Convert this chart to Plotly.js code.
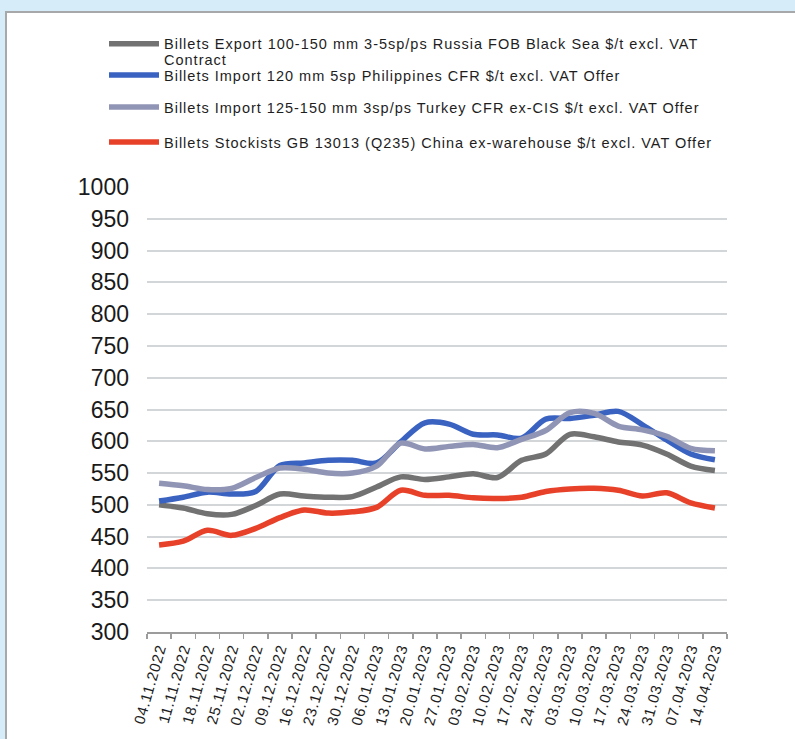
<!DOCTYPE html>
<html>
<head>
<meta charset="utf-8">
<script src="https://cdn.plot.ly/plotly-3.0.1.min.js"></script>
<style>
  html, body { margin: 0; padding: 0; width: 795px; height: 739px; overflow: hidden; background: #d6ecf9; }
  #frame { position: absolute; left: 5px; top: 11px; width: 788px; height: 726px;
           border-left: 2px solid #a6a8aa; border-top: 2px solid #a6a8aa; background: #ffffff; }
  #chart { width: 788px; height: 726px; }
  .xtick text { letter-spacing: 0.8px !important; }
</style>
</head>
<body>
<div id="frame"><div id="chart"></div></div>
<script>
// Weekly billet price assessments, $/t
const weeks = [
  '04.11.2022', '11.11.2022', '18.11.2022', '25.11.2022', '02.12.2022', '09.12.2022',
  '16.12.2022', '23.12.2022', '30.12.2022', '06.01.2023', '13.01.2023', '20.01.2023',
  '27.01.2023', '03.02.2023', '10.02.2023', '17.02.2023', '24.02.2023', '03.03.2023',
  '10.03.2023', '17.03.2023', '24.03.2023', '31.03.2023', '07.04.2023', '14.04.2023'
];

const russiaExport = [500, 495, 486, 485, 499, 517, 514, 512, 513, 528, 544, 540,
                      544, 549, 543, 570, 580, 611, 607, 599, 594, 580, 561, 554];
const philippinesImport = [506, 512, 520, 517, 521, 562, 566, 570, 570, 566, 599, 629,
                           627, 611, 610, 605, 635, 636, 641, 647, 626, 602, 580, 571];
const turkeyImport = [534, 530, 524, 526, 543, 558, 556, 550, 550, 561, 597, 588,
                      592, 595, 590, 603, 617, 645, 644, 624, 618, 608, 589, 585];
const chinaStockists = [437, 443, 460, 452, 463, 480, 492, 487, 489, 496, 523, 515,
                        515, 511, 510, 512, 521, 525, 526, 523, 514, 519, 503, 495];

const seriesLabels = [
  ['Billets Export 100-150 mm 3-5sp/ps Russia FOB Black Sea $/t excl. VAT', 'Contract'],
  ['Billets Import 120 mm 5sp Philippines CFR $/t excl. VAT Offer'],
  ['Billets Import 125-150 mm 3sp/ps Turkey CFR ex-CIS $/t excl. VAT Offer'],
  ['Billets Stockists GB 13013 (Q235) China ex-warehouse $/t excl. VAT Offer']
];
const seriesValues = [russiaExport, philippinesImport, turkeyImport, chinaStockists];
const seriesColors = ['#727272', '#3a62c0', '#9095b5', '#e8412a'];
const legendIds = ['legend', 'legend2', 'legend3', 'legend4'];
// the wrapped first entry gets a smaller base size so its two lines sit close
const legendFontSizes = [12.5, 14.5, 14.5, 14.5];

// legend text: each line in a spaced-out span at 14.5px
function legendName(lines) {
  return lines.map(t => '<span style="font-size:14.5px;letter-spacing:1px">' + t + '</span>').join('<br>');
}

const traces = seriesValues.map((vals, i) => ({
  type: 'scatter',
  mode: 'lines',
  x: weeks,
  y: vals,
  name: legendName(seriesLabels[i]),
  legend: legendIds[i],
  line: { color: seriesColors[i], width: 5.5, shape: 'spline', smoothing: 0.9 },
  hoverinfo: 'x+y'
}));

const textFont = 'Liberation Sans, Arial, Helvetica, sans-serif';

const W = 788, H = 726;
const margin = { l: 140, r: 68, t: 174, b: 107 };
const plotW = W - margin.l - margin.r;
const plotH = H - margin.t - margin.b;

// one legend box per series so each row sits at its own height
const legendLeft = 97;
const legendTops = [16, 46, 78, 113];
function legendBox(top, size) {
  return {
    xref: 'paper', yref: 'paper',
    x: (legendLeft - margin.l) / plotW, xanchor: 'left',
    y: 1 + (margin.t - top) / plotH, yanchor: 'top',
    bgcolor: 'rgba(0,0,0,0)',
    borderwidth: 0,
    valign: 'top',
    itemwidth: 50,
    font: { family: textFont, size: size, color: '#1e1e1e' }
  };
}

const layout = {
  width: W,
  height: H,
  paper_bgcolor: '#ffffff',
  plot_bgcolor: '#ffffff',
  margin: margin,
  showlegend: true,
  xaxis: {
    type: 'category',
    range: [-0.5, weeks.length - 0.5],
    tickson: 'boundaries',
    ticks: 'outside',
    ticklen: 5,
    tickwidth: 1.5,
    tickcolor: '#9c9c9c',
    showline: true,
    linecolor: '#9c9c9c',
    linewidth: 2,
    showgrid: false,
    zeroline: false,
    tickangle: -74,
    automargin: false,
    tickfont: { family: textFont, size: 15, color: '#1e1e1e' }
  },
  yaxis: {
    range: [300, 1000],
    tick0: 300,
    dtick: 50,
    showline: false,
    zeroline: false,
    ticks: '',
    gridcolor: '#d3d6d8',
    gridwidth: 2,
    automargin: false,
    ticklabelstandoff: 17,
    tickfont: { family: textFont, size: 23, color: '#1a1a1a' }
  }
};
legendIds.forEach((id, i) => { layout[id] = legendBox(legendTops[i], legendFontSizes[i]); });

Plotly.newPlot('chart', traces, layout, { displayModeBar: false, staticPlot: true });
</script>
</body>
</html>
